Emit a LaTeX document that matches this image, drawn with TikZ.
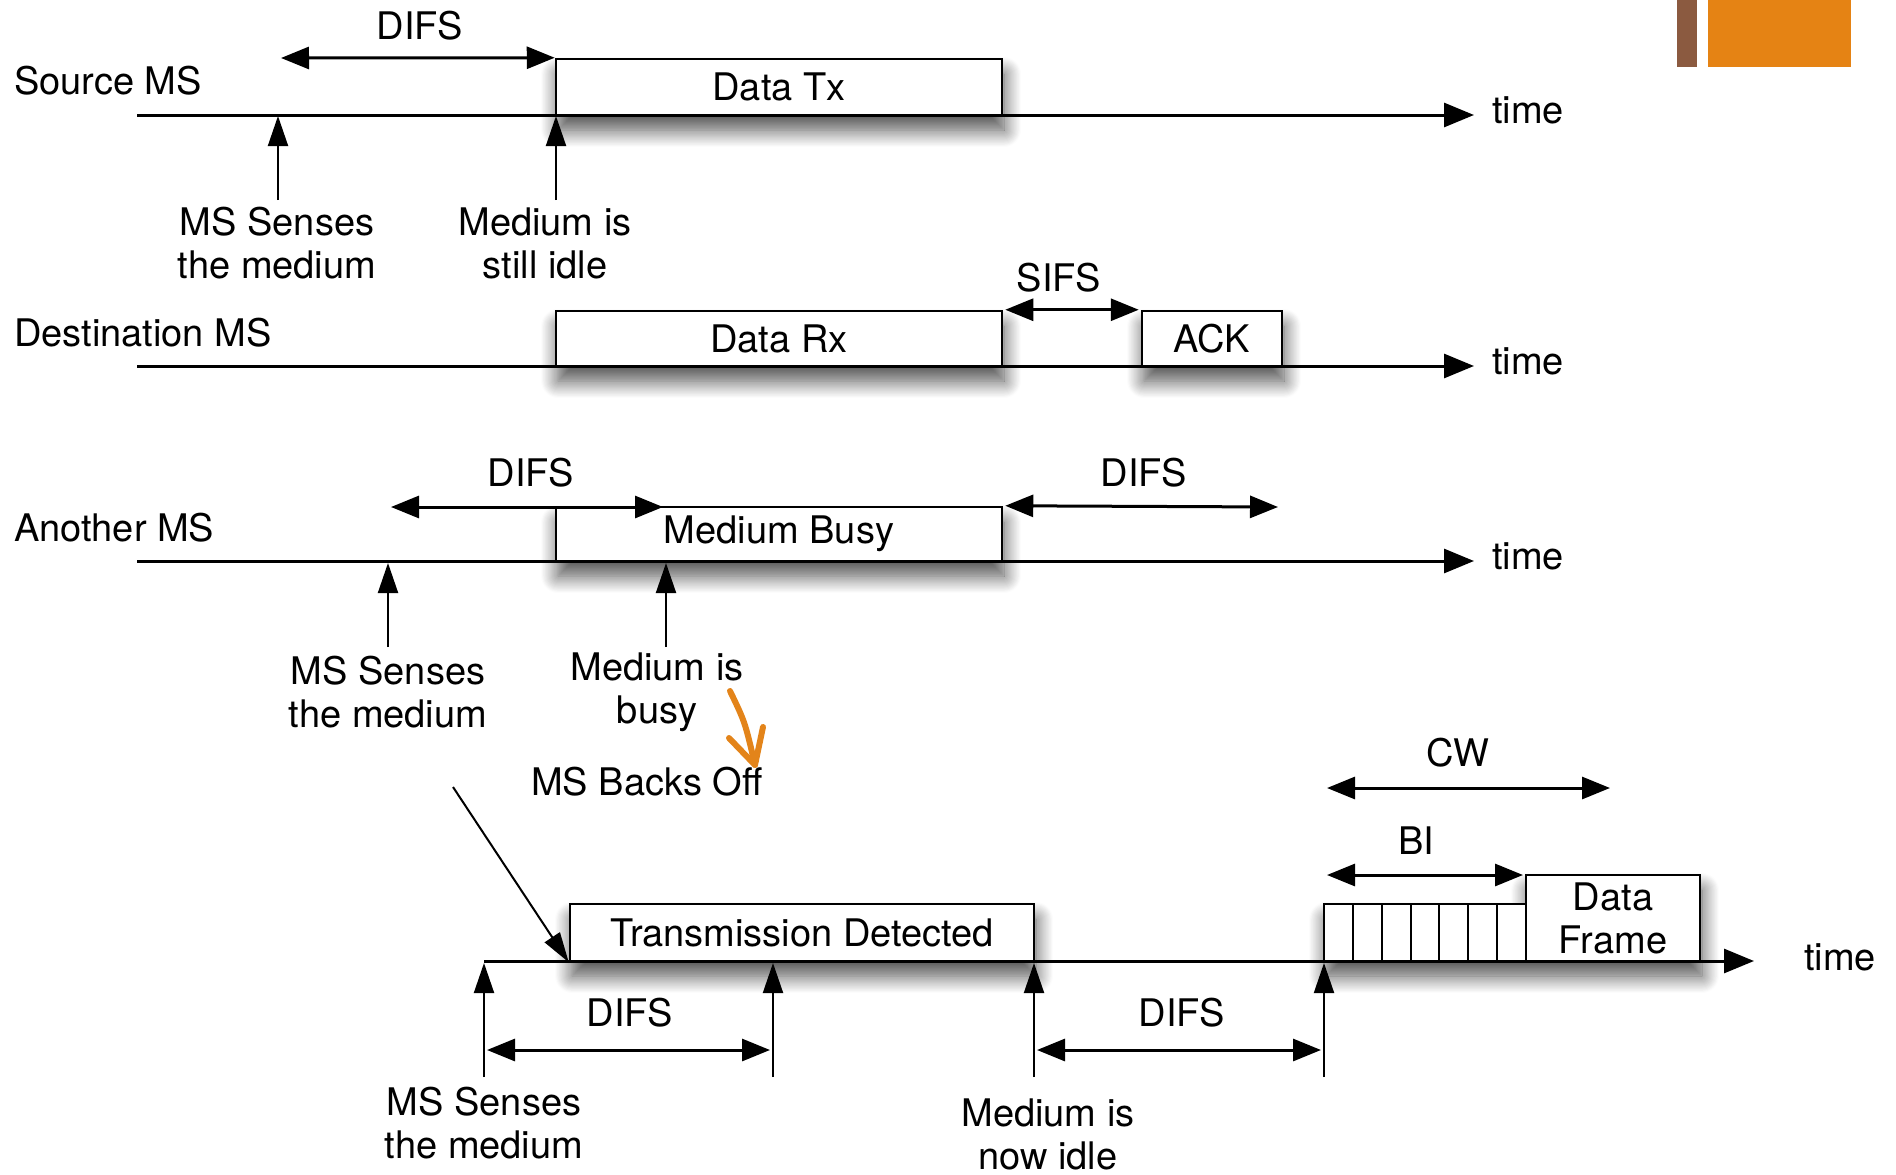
\documentclass[tikz,border=0pt]{standalone}
\usepackage{fontspec}
\setmainfont{TeX Gyre Heros}
\usetikzlibrary{arrows.meta,shadows.blur}
\definecolor{barbrown}{HTML}{8B5A40}
\definecolor{barorange}{HTML}{E58314}
\definecolor{penorange}{HTML}{E3841A}
\newcommand\labfont{\fontsize{38pt}{43pt}\selectfont}
\begin{document}
\begin{tikzpicture}[x=1pt,y=-1pt,
  box/.style={draw, line width=2.5pt, fill=white, inner sep=0pt, font=\labfont, align=center},
  shad/.style={blur shadow={shadow xshift=2pt, shadow yshift=-15pt, shadow blur radius=17pt, shadow blur steps=16, shadow opacity=70}},
  lbl/.style={font=\labfont, inner sep=0pt, align=center},
  tl/.style={line width=3pt, -{Triangle[length=30pt,width=24pt]}},
  up/.style={line width=2pt, -{Triangle[length=30pt,width=20pt]}},
  dim/.style={line width=3pt, {Triangle[length=28pt,width=22pt]}-{Triangle[length=28pt,width=22pt]}},
  slotbox/.style={draw, line width=2pt, inner sep=0pt, minimum width=28.857pt, minimum height=57pt}
]
\useasboundingbox (0,0) rectangle (1896,1175);

% decoration top right
\fill[barbrown] (1677,0) rectangle (1697,67);
\fill[barorange] (1708,0) rectangle (1851,67);

% ---------------- Source MS ----------------
\node[lbl, anchor=west] (srcl) at (14,81) {Source MS};
\node[box, shad, minimum width=446pt, minimum height=56pt] (dtx) at (779,87) {Data Tx};
\coordinate (s0) at (137,115);
\coordinate (s1) at (1474,115);
\draw[tl] (s0) -- (s1);
\node[lbl, anchor=west] (st) at (1492,110) {time};
\coordinate (sd1) at (281,58);
\draw[dim] (sd1) -- (dtx.north west);
\node[lbl] (sdl) at (420,26) {DIFS};
\coordinate (su1b) at (278,200);
\coordinate (su1t) at (278,116);
\draw[up] (su1b) -- (su1t);
\coordinate (su2b) at (556,200);
\coordinate (su2t) at (556,116);
\draw[up] (su2b) -- (su2t);
\node[lbl] (sl1) at (277,243) {MS Senses\\the medium};
\node[lbl] (sl2) at (545,243) {Medium is\\still idle};

% ---------------- Destination MS ----------------
\node[lbl, anchor=west] (dstl) at (14,333) {Destination MS};
\node[box, shad, minimum width=446pt, minimum height=55pt] (drx) at (779,338.5) {Data Rx};
\node[box, shad, minimum width=140pt, minimum height=55pt] (ack) at (1212,338.5) {ACK};
\coordinate (d0) at (137,366);
\coordinate (d1) at (1474,366);
\draw[tl] (d0) -- (d1);
\node[lbl, anchor=west] (dt) at (1492,361) {time};
\draw[dim, shorten <=2pt, shorten >=2pt] (drx.north east) -- (ack.north west);
\node[lbl] (sifs) at (1059,278) {SIFS};

% ---------------- Another MS ----------------
\node[lbl, anchor=west] (anl) at (14,528) {Another MS};
\node[box, shad, minimum width=446pt, minimum height=54pt] (mb) at (779,534) {Medium Busy};
\coordinate (a0) at (137,561);
\coordinate (a1) at (1474,561);
\draw[tl] (a0) -- (a1);
\node[lbl, anchor=west] (at) at (1492,556) {time};
\coordinate (ad1a) at (391,507);
\coordinate (ad1b) at (663,507);
\draw[dim] (ad1a) -- (ad1b);
\node[lbl] (adl1) at (531,473) {DIFS};
\coordinate (ad2b) at (1278,507);
\draw[dim, shorten <=2pt] (mb.north east) -- (ad2b);
\node[lbl] (adl2) at (1144,473) {DIFS};
\coordinate (au1b) at (388,647);
\coordinate (au1t) at (388,563);
\draw[up] (au1b) -- (au1t);
\coordinate (au2b) at (666,647);
\coordinate (au2t) at (666,563);
\draw[up] (au2b) -- (au2t);
\node[lbl] (al1) at (388,692) {MS Senses\\the medium};
\node[lbl] (al2) at (657,692) {Medium is\\busy};
\node[lbl] (backs) at (647,782) {MS Backs Off};

% orange hand-drawn arrow
\coordinate (o1) at (730,691);
\coordinate (oc) at (745,722);
\coordinate (o2) at (755,765);
\coordinate (ol) at (729,738);
\coordinate (or) at (763,727);
\draw[penorange, line width=6pt, line cap=round, line join=round] (o1) .. controls (oc) .. (o2);
\draw[penorange, line width=6pt, line cap=round, line join=round] (ol) -- (o2) -- (or);

% ---------------- Bottom timeline ----------------
\node[box, shad, minimum width=464pt, minimum height=57pt] (td) at (802,932.5) {Transmission Detected};
\begin{scope}
\path[fill=white, shad] (1324,961) -- (1324,904) -- (1526,904) -- (1526,875) -- (1700,875) -- (1700,961) -- cycle;
\end{scope}
\foreach \i in {0,...,6} {
  \node[slotbox] (slot\i) at ({1324+28.857*(\i+0.5)},932.5) {};
}
\node[box, minimum width=174pt, minimum height=86pt] (df) at (1613,918) {Data\\Frame};
\coordinate (b0) at (484,961);
\coordinate (b1) at (1754,961);
\draw[tl] (b0) -- (b1);
\node[lbl, anchor=west] (bt) at (1804,957) {time};

\coordinate (diag0) at (453,787);
\draw[line width=2pt, -{Triangle[length=30pt,width=18pt]}] (diag0) -- (td.south west);

\coordinate (bu1b) at (484,1077);
\coordinate (bu1t) at (484,963);
\draw[up] (bu1b) -- (bu1t);
\coordinate (bu2b) at (773,1077);
\coordinate (bu2t) at (773,963);
\draw[up] (bu2b) -- (bu2t);
\coordinate (bu3b) at (1034,1077);
\coordinate (bu3t) at (1034,963);
\draw[up] (bu3b) -- (bu3t);
\coordinate (bu4b) at (1324,1077);
\coordinate (bu4t) at (1324,963);
\draw[up] (bu4b) -- (bu4t);

\coordinate (bd1a) at (487,1050);
\coordinate (bd1b) at (770,1050);
\draw[dim] (bd1a) -- (bd1b);
\node[lbl] (bdl1) at (630,1013) {DIFS};
\coordinate (bd2a) at (1037,1050);
\coordinate (bd2b) at (1321,1050);
\draw[dim] (bd2a) -- (bd2b);
\node[lbl] (bdl2) at (1182,1013) {DIFS};

\node[lbl] (bl1) at (484,1123) {MS Senses\\the medium};
\node[lbl] (bl2) at (1048,1134) {Medium is\\now idle};

% BI and CW
\coordinate (bia) at (1327,875);
\coordinate (bib) at (1523,875);
\draw[dim] (bia) -- (bib);
\node[lbl] (bil) at (1416,841) {BI};
\coordinate (cwa) at (1327,788);
\coordinate (cwb) at (1610,788);
\draw[dim] (cwa) -- (cwb);
\node[lbl] (cwl) at (1458,753) {CW};
\end{tikzpicture}
\end{document}
